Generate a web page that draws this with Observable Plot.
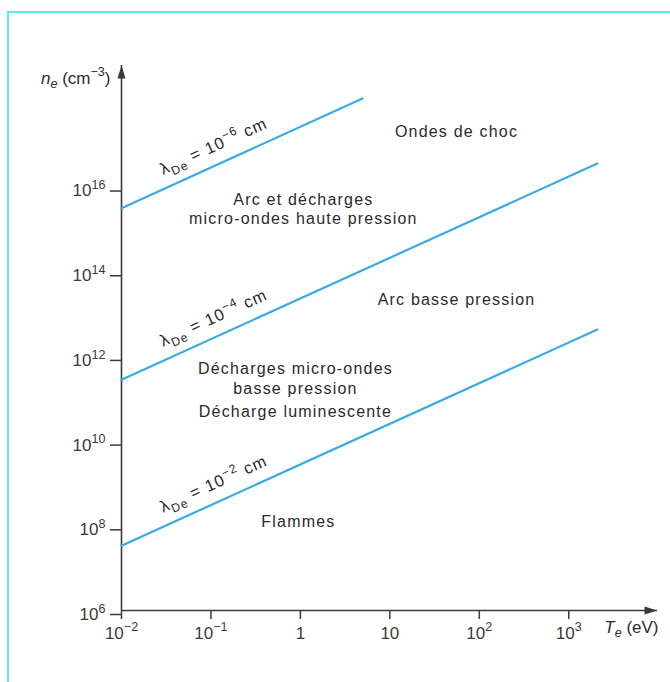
<!DOCTYPE html>
<html>
<head>
<meta charset="utf-8">
<script src="https://cdn.jsdelivr.net/npm/d3@7"></script>
<script src="https://cdn.jsdelivr.net/npm/@observablehq/plot@0.6"></script>
<style>
  body { margin: 0; background: #fff; }
  #wrap { position: relative; width: 670px; height: 682px; overflow: hidden; background: #fff; }
  #border { position: absolute; left: 7px; top: 11px; right: -10px; bottom: -10px;
            border-top: 2.5px solid #55eef5; border-left: 2.5px solid #55eef5; pointer-events: none; }
  #wrap svg { position: absolute; left: 0; top: 0; }
</style>
</head>
<body>
<div id="wrap"><div id="border"></div></div>
<script>
// ---------- data ----------
const xTicks = [1e-2, 1e-1, 1, 10, 1e2, 1e3];
const xTickLabels = ["10^{−2}", "10^{−1}", "1", "10", "10^{2}", "10^{3}"];
const yTicks = [1e6, 1e8, 1e10, 1e12, 1e14, 1e16];
const yTickLabels = ["10^{6}", "10^{8}", "10^{10}", "10^{12}", "10^{14}", "10^{16}"];
const xDomain = [1e-2, 10 ** 3.992];
const yDomain = [1e6, 10 ** 18.87];

const debyeLengths = ["10^{−6}", "10^{−4}", "10^{−2}"];
const lineTeStart = [0.01, 0.01, 0.01];
const lineNeStart = [10 ** 15.5, 10 ** 11.45, 10 ** 7.53];
const lineTeEnd = [10 ** 0.694, 10 ** 3.32, 10 ** 3.32];
const lineNeEnd = [10 ** 18.09, 10 ** 16.555, 10 ** 12.635];
const lineLabelTe = [0.13, 0.13, 0.13];

const regionNames = [
  "Ondes de choc",
  "Arc et décharges\nmicro-ondes haute pression",
  "Arc basse pression",
  "Décharges micro-ondes\nbasse pression",
  "Décharge luminescente",
  "Flammes"
];
const regionTe = [55.6, 1.08, 55.6, 0.88, 0.88, 0.95];
const regionNe = [10 ** 17.33, 10 ** 15.5, 10 ** 13.37, 10 ** 11.5, 10 ** 10.72, 10 ** 8.125];

const yTitle = "*n*_{*e*} (cm^{−3})";
const xTitle = "*T*_{*e*} (eV)";

// ---------- derived tables ----------
const linePoints = debyeLengths.flatMap((lam, k) => [
  {k, Te: lineTeStart[k], ne: lineNeStart[k]},
  {k, Te: lineTeEnd[k], ne: lineNeEnd[k]}
]);
const lineLabels = debyeLengths.map((lam, k) => {
  const l0 = Math.log10(lineTeStart[k]), l1 = Math.log10(lineTeEnd[k]);
  const n0 = Math.log10(lineNeStart[k]), n1 = Math.log10(lineNeEnd[k]);
  const t = (Math.log10(lineLabelTe[k]) - l0) / (l1 - l0);
  return {Te: lineLabelTe[k], ne: 10 ** (n0 + t * (n1 - n0)), text: `λ_{De} = ${lam} cm`};
});
const regions = regionNames.map((name, i) => ({name, Te: regionTe[i], ne: regionNe[i]}));
const arrows = [
  {x: xDomain[1], y: yDomain[0], r: 90},
  {x: xDomain[0], y: yDomain[1], r: 0}
];

const axisColor = "#3a3a3a";
const textColor = "#2b2b2b";
const blue = "#3aaae6";

const plot = Plot.plot({
  width: 670,
  height: 682,
  marginLeft: 121,
  marginRight: 13,
  marginTop: 65,
  marginBottom: 72,
  style: {fontFamily: "'Liberation Sans', Arial, sans-serif", fontSize: "16px", color: textColor, background: "transparent", overflow: "visible"},
  x: {type: "log", domain: xDomain, label: null},
  y: {type: "log", domain: yDomain, label: null},
  marks: [
    Plot.ruleY([yDomain[0]], {x1: xDomain[0], x2: xDomain[1], stroke: axisColor, strokeWidth: 1.6}),
    Plot.ruleX([xDomain[0]], {y1: yDomain[0], y2: yDomain[1], stroke: axisColor, strokeWidth: 1.6}),
    Plot.axisX(xTicks, {tickFormat: d => xTickLabels[xTicks.indexOf(d)], tickSize: 9, tickPadding: 7, fontSize: 17, color: axisColor, strokeWidth: 1.5, label: null}),
    Plot.axisY(yTicks, {tickFormat: d => yTickLabels[yTicks.indexOf(d)], tickSize: 11, tickPadding: 5, dy: 4, fontSize: 17, color: axisColor, strokeWidth: 1.5, label: null}),
    Plot.vector(arrows, {x: "x", y: "y", rotate: "r", length: 13, r: 4, shape: "spike", anchor: "end", fill: axisColor, stroke: "none"}),
    Plot.line(linePoints, {x: "Te", y: "ne", z: "k", stroke: blue, strokeWidth: 2.2}),
    Plot.text(lineLabels, {x: "Te", y: "ne", text: "text", rotate: -24.4, dx: -7.5, dy: -16.5, textAnchor: "middle", fontSize: 16.5, fill: textColor}),
    Plot.text(regions, {x: "Te", y: "ne", text: "name", textAnchor: "middle", fontSize: 16, lineHeight: 1.22, fill: textColor}),
    Plot.text([yTitle], {frameAnchor: "top-left", text: d => d, textAnchor: "end", dx: -11, dy: 6, fontSize: 17, fill: textColor}),
    Plot.text([xTitle], {frameAnchor: "bottom-right", text: d => d, textAnchor: "end", dx: 1, dy: 22, fontSize: 17, fill: textColor})
  ]
});

// rich text: ^{sup}, _{sub}, *italic*
function richText(svg) {
  const NS = "http://www.w3.org/2000/svg";
  const splitter = /(\^\{[^}]*\}|_\{[^}]*\}|\*[^*]+\*)/;
  svg.querySelectorAll("text").forEach(t => {
    const targets = t.querySelector("tspan") ? [...t.querySelectorAll("tspan")] : [t];
    targets.forEach(el => {
      const s = el.textContent;
      if (!/\^\{|_\{|\*/.test(s)) return;
      const parts = s.split(splitter).filter(p => p !== "");
      el.textContent = "";
      let current = 0;
      for (const p of parts) {
        const ts = document.createElementNS(NS, "tspan");
        let content = p, kind = "n";
        if (p.startsWith("^{")) { kind = "sup"; content = p.slice(2, -1); }
        else if (p.startsWith("_{")) { kind = "sub"; content = p.slice(2, -1); }
        else if (p.length > 2 && p.startsWith("*") && p.endsWith("*")) { kind = "it"; content = p.slice(1, -1); }
        if (content.length > 2 && content.startsWith("*") && content.endsWith("*")) {
          content = content.slice(1, -1); ts.setAttribute("font-style", "italic");
        }
        if (kind === "it") ts.setAttribute("font-style", "italic");
        const small = kind === "sup" || kind === "sub";
        const target = kind === "sup" ? -0.42 : kind === "sub" ? 0.28 : 0;
        const delta = target - current;
        if (Math.abs(delta) > 1e-9) ts.setAttribute("dy", (delta / (small ? 0.74 : 1)).toFixed(3) + "em");
        current = target;
        if (small) ts.setAttribute("font-size", "74%");
        ts.textContent = content;
        el.appendChild(ts);
      }
    });
  });
  const flatNames = regionNames.map(s => s.replace(/\n/g, ""));
  svg.querySelectorAll("text").forEach(t => {
    if (flatNames.includes(t.textContent)) t.setAttribute("letter-spacing", "1.2px");
    else if (t.textContent.startsWith("λ")) t.setAttribute("letter-spacing", "1.1px");
  });
}
richText(plot);
document.getElementById("wrap").appendChild(plot);
</script>
</body>
</html>
